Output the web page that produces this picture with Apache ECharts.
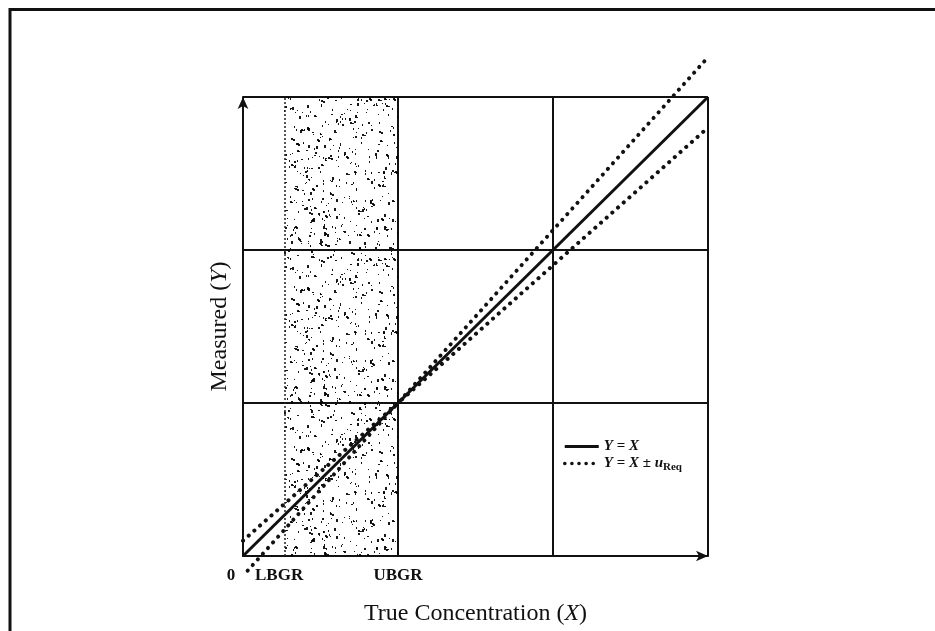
<!DOCTYPE html>
<html>
<head>
<meta charset="utf-8">
<style>
  html, body { margin: 0; padding: 0; background: #fff; }
  #chart { width: 935px; height: 631px; }
</style>
<script src="https://cdn.jsdelivr.net/npm/echarts@6/dist/echarts.min.js"></script>
</head>
<body>
<div id="chart"></div>
<script>
// Concentration levels (arbitrary units)
const LBGR = 0.265;
const UBGR = 1.0;
const axisMax = 3;

// Tick labels along the true-concentration axis
const tickValues = [0, LBGR, UBGR];
const tickNames = ['0', 'LBGR', 'UBGR'];

// Y = X reference line
const identityLine = [[0, 0], [3, 3]];
// Bounds Y = X ± u_Req (the two branches cross at UBGR)
const shallowBound = [[0, 0.1], [3, 2.8]];
const steepBound = [[0.03, -0.096], [3, 3.26]];

const SERIF = '"Liberation Serif", "DejaVu Serif", serif';

// Speckled texture for the gray region between LBGR and UBGR
function speckleCanvas() {
  const size = 160;
  const c = document.createElement('canvas');
  c.width = size; c.height = size;
  const g = c.getContext('2d');
  g.fillStyle = 'rgba(0,0,0,0.9)';
  let s = 987654;
  const next = () => { s = (s * 1103515245 + 12345) & 0x7fffffff; return s / 0x7fffffff; };
  for (let i = 0; i < 640; i++) {
    const x = Math.floor(next() * size);
    const y = Math.floor(next() * size);
    const r = next();
    if (r < 0.6) {
      g.fillRect(x, y, 1, 1 + Math.floor(next() * 2));
    } else if (r < 0.88) {
      g.fillRect(x, y, 2, 1 + Math.floor(next() * 3));
    } else {
      // small clump
      g.fillRect(x, y, 2, 2);
      g.fillRect(x + 1 + Math.floor(next() * 2), y + 1, 2, 1 + Math.floor(next() * 2));
    }
  }
  return c;
}

const chart = echarts.init(document.getElementById('chart'), null, { renderer: 'canvas' });

const nameRich = {
  n: { fontFamily: SERIF, fontSize: 24, color: '#111' },
  i: { fontFamily: SERIF, fontSize: 24, fontStyle: 'italic', color: '#111' }
};
const legRich = {
  i: { fontFamily: SERIF, fontSize: 15, fontStyle: 'italic', fontWeight: 'bold', color: '#111' },
  n: { fontFamily: SERIF, fontSize: 15, fontWeight: 'bold', color: '#111' },
  sub: { fontFamily: SERIF, fontSize: 11, fontWeight: 'bold', color: '#111', padding: [8, 0, 0, 0] }
};

const dotStyle = { color: '#111', width: 4, type: [0.1, 7.5], cap: 'round' };

chart.setOption({
  animation: false,
  backgroundColor: '#fff',
  color: ['#111', '#111', '#111'],
  grid: { left: 243, right: 227, top: 97, bottom: 75, containLabel: false },
  xAxis: {
    type: 'value', min: 0, max: axisMax, interval: 1,
    name: '{n|True Concentration (}{i|X}{n|)}',
    nameLocation: 'middle', nameGap: 46,
    nameTextStyle: { rich: nameRich },
    axisLine: { show: true, symbol: ['none', 'arrow'], symbolSize: [8, 12],
                lineStyle: { color: '#111', width: 2 } },
    axisTick: { show: false },
    splitLine: { show: true, lineStyle: { color: '#111', width: 2 } },
    axisLabel: {
      show: true, margin: 11,
      customValues: tickValues,
      formatter: function (v) {
        const idx = tickValues.indexOf(v);
        const t = idx >= 0 ? tickNames[idx] : '';
        return v === 0 ? '{z|' + t + '}' : (v === LBGR ? '{l|' + t + '}' : '{t|' + t + '}');
      },
      rich: {
        t: { fontFamily: SERIF, fontSize: 17, fontWeight: 'bold', color: '#111' },
        l: { fontFamily: SERIF, fontSize: 17, fontWeight: 'bold', color: '#111', padding: [0, 10, 0, 0] },
        z: { fontFamily: SERIF, fontSize: 17, fontWeight: 'bold', color: '#111', padding: [0, 24, 0, 0] }
      }
    }
  },
  yAxis: {
    type: 'value', min: 0, max: axisMax, interval: 1,
    name: '{n|Measured (}{i|Y}{n|)}',
    nameLocation: 'middle', nameGap: 11,
    nameTextStyle: { rich: nameRich },
    axisLine: { show: true, symbol: ['none', 'arrow'], symbolSize: [8, 12],
                lineStyle: { color: '#111', width: 2 } },
    axisTick: { show: false },
    axisLabel: { show: false },
    splitLine: { show: true, lineStyle: { color: '#111', width: 2 } }
  },
  legend: {
    orient: 'vertical', left: 558, top: 434,
    itemWidth: 34, itemHeight: 14, itemGap: 2,
    itemStyle: { opacity: 0 },
    data: [
      { name: 'Y = X', lineStyle: { color: '#111', width: 3, type: 'solid' } },
      { name: 'Y = X ± uReq', lineStyle: { color: '#111', width: 3.5, type: [0.1, 7], cap: 'round' } }
    ],
    formatter: function (name) {
      if (name === 'Y = X') return '{i|Y}{n| = }{i|X}';
      return '{i|Y}{n| = }{i|X}{n| ± }{i|u}{sub|Req}';
    },
    textStyle: { rich: legRich }
  },
  series: [
    {
      name: 'Y = X', type: 'line', symbol: 'none', z: 5,
      data: identityLine,
      itemStyle: { color: '#111' },
      lineStyle: { color: '#111', width: 3 },
      markArea: {
        silent: true,
        itemStyle: { color: { image: speckleCanvas(), repeat: 'repeat' } },
        data: [[{ xAxis: LBGR }, { xAxis: UBGR }]]
      },
      markLine: {
        silent: true, symbol: 'none', label: { show: false },
        lineStyle: { color: '#222', width: 1.5, type: [2, 2] },
        data: [{ xAxis: LBGR }]
      }
    },
    {
      name: 'Y = X ± uReq', type: 'line', symbol: 'none', z: 4, clip: false,
      itemStyle: { color: '#111' },
      data: shallowBound, lineStyle: dotStyle
    },
    {
      name: 'Y = X ± uReq', type: 'line', symbol: 'none', z: 4, clip: false,
      itemStyle: { color: '#111' },
      data: steepBound, lineStyle: dotStyle
    }
  ],
  graphic: [
    { type: 'polyline', silent: true,
      shape: { points: [[10, 631], [10, 9.5], [935, 9.5]] },
      style: { stroke: '#111', lineWidth: 3, fill: null } }
  ]
});
</script>
</body>
</html>
